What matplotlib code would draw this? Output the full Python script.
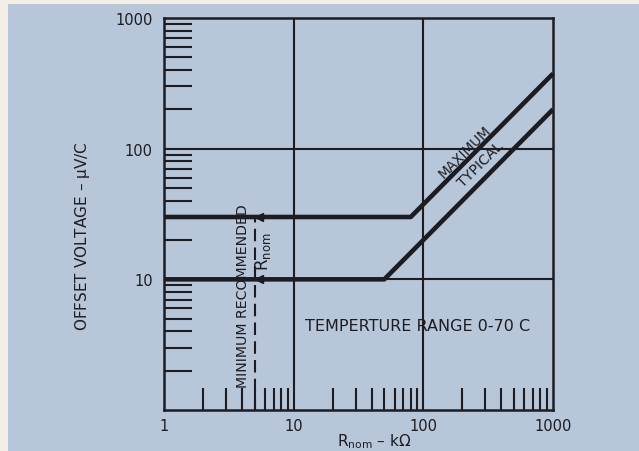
import matplotlib
matplotlib.use("Agg")
import matplotlib.pyplot as plt
from matplotlib.patches import Rectangle
from matplotlib.ticker import LogLocator, NullFormatter, FixedLocator, FixedFormatter
import numpy as np

# offset voltage curves (uV/C) vs nominal resistance (kOhm)
r_max = [1, 80, 1000]
v_max = [30, 30, 375]
r_typ = [1, 50, 1000]
v_typ = [10, 10, 200]
r_min_rec = 5

x_ticks = [1, 10, 100, 1000]
x_labels = ["1", "10", "100", "1000"]
y_ticks = [10, 100, 1000]
y_labels = ["10", "100", "1000"]

blue = "#b7c6d8"
ink = "#1c1c22"

plt.rcParams["mathtext.default"] = "regular"

fig = plt.figure(figsize=(6.39, 4.52), dpi=100)
fig.patch.set_facecolor("#f3efe6")
fig.patches.append(Rectangle((8 / 639, 0), 1, 1 - 5 / 452, transform=fig.transFigure,
                             facecolor=blue, edgecolor="none", zorder=-10))

ax = fig.add_axes([164 / 639, 1 - 411 / 452, 389 / 639, 392 / 452])
ax.set_facecolor(blue)
ax.set_xscale("log")
ax.set_yscale("log")
ax.set_xlim(1, 1000)
ax.set_ylim(1, 1000)

for s in ax.spines.values():
    s.set_linewidth(1.8)
    s.set_color(ink)

# major grid at the decades
for d in [10, 100]:
    ax.axvline(d, color=ink, lw=1.5, zorder=1)
    ax.axhline(d, color=ink, lw=1.5, zorder=1)

ax.xaxis.set_major_locator(FixedLocator(x_ticks))
ax.xaxis.set_major_formatter(FixedFormatter(x_labels))
ax.yaxis.set_major_locator(FixedLocator(y_ticks))
ax.yaxis.set_major_formatter(FixedFormatter(y_labels))
ax.xaxis.set_minor_locator(LogLocator(base=10, subs=np.arange(2, 10)))
ax.yaxis.set_minor_locator(LogLocator(base=10, subs=np.arange(2, 10)))
ax.xaxis.set_minor_formatter(NullFormatter())
ax.yaxis.set_minor_formatter(NullFormatter())
ax.tick_params(which="major", length=0, labelsize=10.5, labelcolor=ink)
ax.tick_params(axis="x", which="major", pad=6)
ax.tick_params(axis="y", which="major", pad=8)
ax.tick_params(axis="x", which="minor", direction="in", length=16, width=1.5, color=ink)
ax.tick_params(axis="y", which="minor", direction="in", length=20, width=1.5, color=ink)

ax.plot(r_max, v_max, color=ink, lw=3.3, solid_capstyle="butt", zorder=3)
ax.plot(r_typ, v_typ, color=ink, lw=3.3, solid_capstyle="butt", zorder=3)

# minimum recommended resistance marker
ax.plot([r_min_rec, r_min_rec], [1, 30], color=ink, lw=1.5, dashes=(6, 3), zorder=2)
ax.plot([r_min_rec * 1.08] * 2, [10, 30], ls="none", marker="<", ms=6, color=ink, zorder=4)

ax.text(4.05, 7.6, "MINIMUM RECOMMENDED", rotation=90, ha="center", va="center",
        fontsize=10.2, color=ink)
ax.text(5.85, 16.5, r"R$_{nom}$", rotation=90, ha="center", va="center",
        fontsize=12, color=ink)
ax.text(91, 4.4, "TEMPERTURE RANGE 0-70 C", ha="center", va="center",
        fontsize=11.5, color=ink)
ax.text(210, 96, "MAXIMUM", rotation=45, ha="center", va="center",
        fontsize=9.8, color=ink)
ax.text(275, 77, "TYPICAL", rotation=45, ha="center", va="center",
        fontsize=10.3, color=ink)

ax.set_xlabel(r"R$_{nom}$ – k$\Omega$", fontsize=11, color=ink)
ax.xaxis.set_label_coords(0.54, -0.054)
ax.set_ylabel(r"OFFSET VOLTAGE – $\mu$V/C", fontsize=11, color=ink)
ax.yaxis.set_label_coords(-0.185, 0.445)

fig.savefig("out.png", dpi=100, facecolor=fig.get_facecolor())
